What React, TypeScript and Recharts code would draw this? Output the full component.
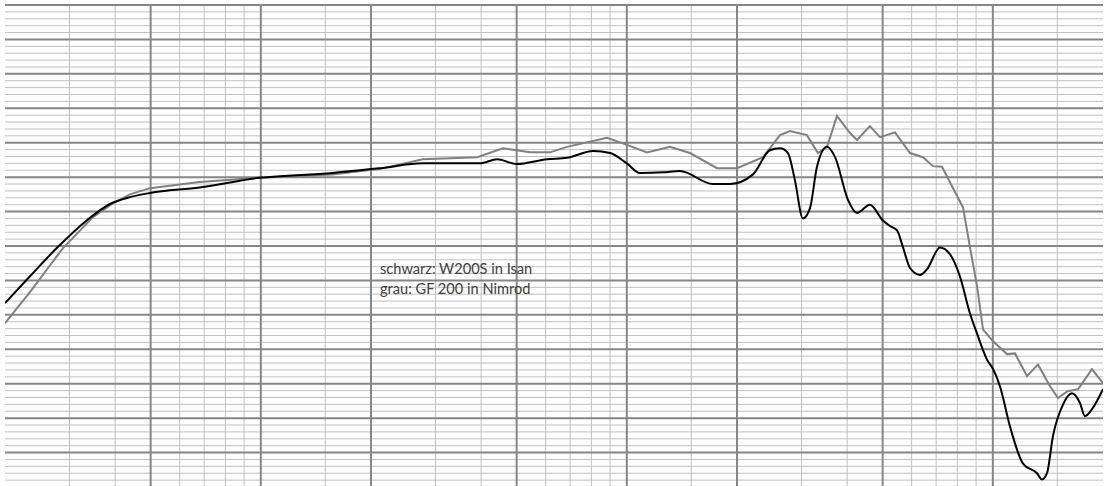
import React from 'react'
import { LineChart, Line, XAxis, YAxis, ReferenceLine } from 'recharts'

// frequency grid (Hz), log scale 20 Hz .. 20 kHz
const freqMajor = [50, 100, 200, 500, 1000, 2000, 5000, 10000]
const freqMinor = [
  30, 40, 60, 70, 80, 90, 150, 300, 400, 600, 700, 800, 900, 1500,
  3000, 4000, 6000, 7000, 8000, 9000, 15000,
]
// level grid (dB), major every 5, minor every 1
const dbMajor = [30, 35, 40, 45, 50, 55, 60, 65, 70, 75, 80, 85, 90, 95, 100]

// schwarz: W200S in Isan
const blackFreq = [
  20, 23.4, 27.7, 33.5, 38.7, 43.9, 49.8, 68, 99, 157, 212, 277, 397, 442, 500,
  606, 686, 809, 900, 1000, 1086, 1256, 1397, 1718, 1914, 2212, 2460, 2622, 2756,
  2878, 3028, 3166, 3308, 3524, 3706, 4020, 4256, 4614, 5000, 5236, 5470, 5684,
  5940, 6324, 6608, 7171, 7638, 8128, 8662, 9052, 9640, 10000, 10464, 11140,
  12090, 13204, 13626, 14060, 14600, 15560, 16450, 17300, 17860, 18660, 20000,
]
const blackDb = [
  56.7, 60.6, 64.7, 68.75, 71.1, 72.1, 72.7, 73.5, 74.9, 75.6, 76.3, 77.0, 77.0, 77.6, 76.9,
  77.6, 77.8, 78.8, 78.5, 77.0, 75.6, 75.7, 75.9, 74.0, 74.0, 75.4, 78.9, 79.2, 78.5,
  74.6, 69.0, 70.5, 76.5, 79.4, 77.9, 71.7, 69.8, 71.0, 68.75, 67.9, 67.3, 64.8,
  61.8, 60.8, 61.6, 64.8, 63.8, 60.6, 55.2, 52.3, 48.5, 47.2, 44.6, 38.8,
  33.4, 32.0, 31.1, 32.0, 37.4, 42.0, 43.6, 42.2, 40.3, 41.3, 44.2,
]

// grau: GF 200 in Nimrod
const grayFreq = [
  20, 23.4, 28.8, 34.8, 39.4, 43.9, 49.8, 68, 99, 157, 212, 277, 390, 459, 543,
  617, 686, 883, 976, 1135, 1312, 1488, 1764, 2000, 2356, 2622, 2792, 3104, 3328,
  3524, 3752, 4072, 4256, 4614, 4918, 5406, 5940, 6444, 6864, 7262, 8290, 8662,
  9052, 9400, 10000, 10934, 11500, 12400, 13290, 14300, 15070, 16000, 17090, 18660, 20000,
]
const grayDb = [
  53.8, 58.3, 64.7, 69.2, 71.2, 72.5, 73.4, 74.3, 74.9, 75.4, 76.2, 77.6, 77.9, 79.2, 78.6,
  78.6, 79.4, 80.7, 79.9, 78.6, 79.4, 78.5, 76.3, 76.3, 77.9, 81.1, 81.7, 81.1, 78.5,
  79.4, 83.9, 81.4, 80.4, 82.4, 80.8, 81.5, 78.5, 77.9, 76.6, 76.5, 70.6, 64.8,
  59.2, 52.9, 51.2, 49.3, 49.4, 46.1, 47.8, 44.7, 42.9, 43.9, 44.2, 47.1, 45.1,
]

const blackData = blackFreq.map((f, i) => ({ f, v: blackDb[i] }))
const grayData = grayFreq.map((f, i) => ({ f, v: grayDb[i] }))
const dbMinor = dbMajor.slice(0, -1).flatMap(d => [d + 1, d + 2, d + 3, d + 4])

const MAJOR = '#868686'
const MINOR = '#c0c0c0'

export default function App() {
  return (
    <div style={{ position: 'absolute', left: 0, top: 0, width: 1110, height: 486, overflow: 'hidden', background: '#fff' }}>
      <LineChart width={1110} height={492} margin={{ top: 5, right: 7, bottom: 5, left: 5 }}>
        <XAxis dataKey="f" type="number" scale="log" domain={[20, 20000]} allowDataOverflow hide />
        <YAxis
          yAxisId="l"
          type="number"
          domain={[30, 100]}
          ticks={dbMajor}
          width={0}
          tick={false}
          tickSize={3}
          tickLine={{ stroke: '#000', strokeWidth: 2 }}
          axisLine={{ stroke: MAJOR, strokeWidth: 2 }}
        />
        <YAxis
          yAxisId="r"
          orientation="right"
          type="number"
          domain={[30, 100]}
          ticks={dbMajor}
          width={0}
          tick={false}
          tickSize={4}
          tickLine={{ stroke: '#000', strokeWidth: 2 }}
          axisLine={{ stroke: MAJOR, strokeWidth: 2 }}
        />
        {dbMinor.map(d => (
          <ReferenceLine key={'hm' + d} yAxisId="l" y={d} stroke={MINOR} strokeWidth={1} />
        ))}
        {freqMinor.map(f => (
          <ReferenceLine key={'vm' + f} yAxisId="l" x={f} stroke={MINOR} strokeWidth={1} />
        ))}
        {dbMajor.map(d => (
          <ReferenceLine key={'hM' + d} yAxisId="l" y={d} stroke={MAJOR} strokeWidth={2} />
        ))}
        {freqMajor.map(f => (
          <ReferenceLine key={'vM' + f} yAxisId="l" x={f} stroke={MAJOR} strokeWidth={2} />
        ))}
        <Line
          yAxisId="l"
          data={grayData}
          dataKey="v"
          type="linear"
          stroke="#808080"
          strokeWidth={2}
          dot={false}
          isAnimationActive={false}
        />
        <Line
          yAxisId="l"
          data={blackData}
          dataKey="v"
          type="monotone"
          stroke="#000"
          strokeWidth={2}
          dot={false}
          isAnimationActive={false}
        />
      </LineChart>
      <div
        style={{
          position: 'absolute',
          left: 380,
          top: 259,
          fontFamily: 'Lato, "Open Sans", sans-serif',
          fontSize: 14.6,
          lineHeight: '20px',
          color: '#404040',
          whiteSpace: 'nowrap',
        }}
      >
        <div>schwarz: W200S in Isan</div>
        <div>grau: GF 200 in Nimrod</div>
      </div>
    </div>
  )
}
